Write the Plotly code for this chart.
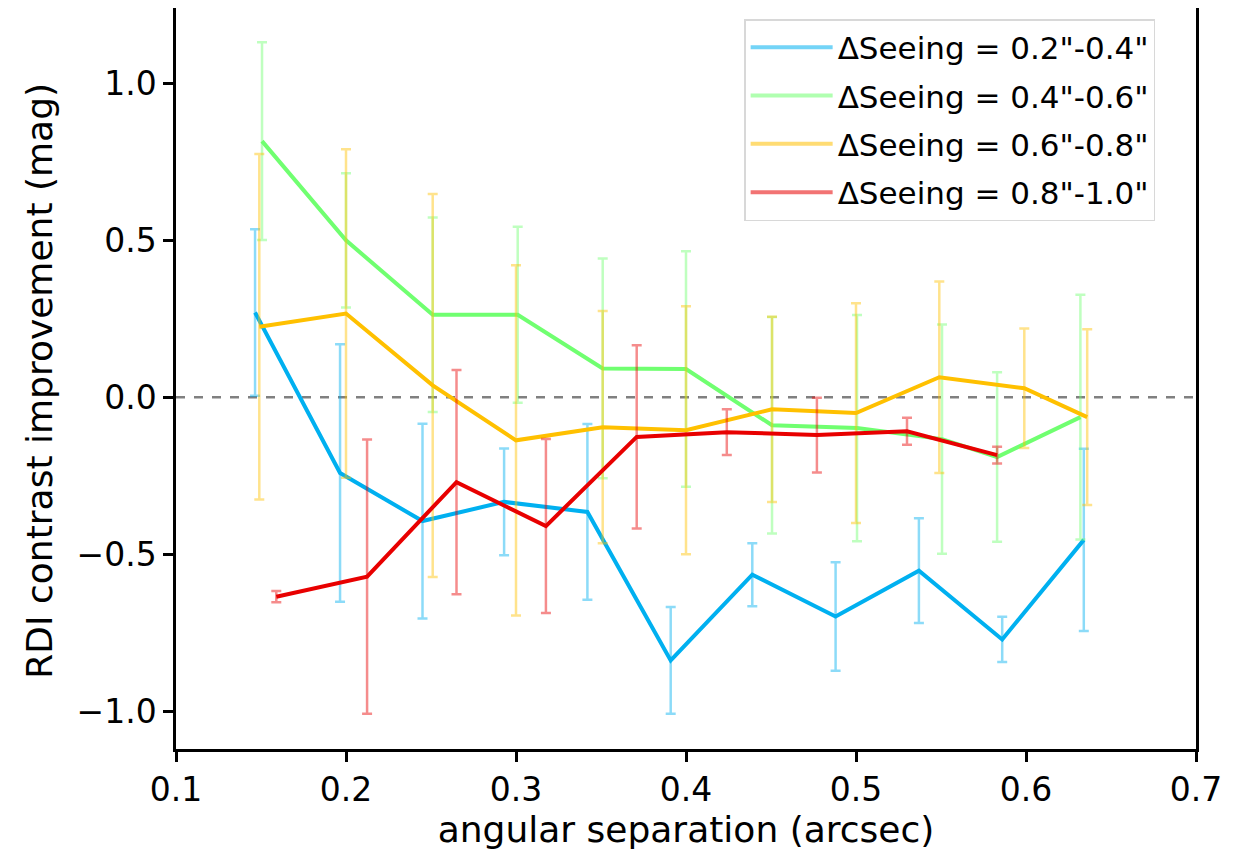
import plotly.graph_objects as go

# ΔSeeing = 0.2"-0.4"
x_blue = [0.1465, 0.1965, 0.245, 0.293, 0.342, 0.391, 0.439, 0.488, 0.537, 0.586, 0.634]
y_blue = [0.27, -0.241, -0.394, -0.333, -0.365, -0.838, -0.565, -0.698, -0.552, -0.771, -0.454]
e_blue = [0.265, 0.41, 0.31, 0.17, 0.28, 0.17, 0.10, 0.173, 0.167, 0.072, 0.29]

# ΔSeeing = 0.4"-0.6"
x_green = [0.1506, 0.200, 0.251, 0.301, 0.351, 0.400, 0.4506, 0.5006, 0.5506, 0.583, 0.632]
y_green = [0.816, 0.50, 0.263, 0.263, 0.092, 0.090, -0.089, -0.098, -0.133, -0.19, -0.063]
e_green = [0.315, 0.214, 0.31, 0.28, 0.35, 0.375, 0.345, 0.36, 0.365, 0.27, 0.39]

# ΔSeeing = 0.6"-0.8"
x_yellow = [0.149, 0.200, 0.251, 0.300, 0.351, 0.400, 0.4506, 0.500, 0.549, 0.599, 0.636]
y_yellow = [0.225, 0.267, 0.038, -0.137, -0.095, -0.105, -0.038, -0.05, 0.064, 0.029, -0.063]
e_yellow = [0.55, 0.523, 0.61, 0.558, 0.37, 0.395, 0.295, 0.35, 0.305, 0.19, 0.28]

# ΔSeeing = 0.8"-1.0"
x_red = [0.159, 0.2124, 0.265, 0.3176, 0.371, 0.424, 0.477, 0.530, 0.583]
y_red = [-0.635, -0.571, -0.27, -0.41, -0.126, -0.111, -0.12, -0.108, -0.184]
e_red = [0.018, 0.437, 0.357, 0.277, 0.292, 0.073, 0.119, 0.043, 0.027]

names = ['ΔSeeing = 0.2"-0.4"', 'ΔSeeing = 0.4"-0.6"',
         'ΔSeeing = 0.6"-0.8"', 'ΔSeeing = 0.8"-1.0"']
line_colors = ['#00b0f0', '#70ff70', '#ffc000', '#e80000']
err_colors = ['rgba(0,176,240,0.45)', 'rgba(112,255,112,0.45)',
              'rgba(255,192,0,0.45)', 'rgba(232,0,0,0.45)']
leg_colors = ['rgba(0,176,240,0.55)', 'rgba(112,255,112,0.55)',
              'rgba(255,192,0,0.55)', 'rgba(232,0,0,0.55)']

series = [(x_blue, y_blue, e_blue), (x_green, y_green, e_green),
          (x_yellow, y_yellow, e_yellow), (x_red, y_red, e_red)]

fig = go.Figure()
for (xs, ys, es), nm, lc, ec in zip(series, names, line_colors, err_colors):
    fig.add_trace(go.Scatter(
        x=xs, y=ys, mode='lines', name=nm, showlegend=False,
        line=dict(color=lc, width=4),
        error_y=dict(type='data', array=es, visible=True,
                     color=ec, thickness=2.5, width=5),
    ))
for i, (nm, ec) in enumerate(zip(names, leg_colors)):
    fig.add_trace(go.Scatter(
        x=[None], y=[None], mode='lines', name=nm, showlegend=True,
        legendgroup=f'g{i}',
        line=dict(color=ec, width=4),
    ))

fig.add_shape(type='line', xref='paper', x0=0, x1=1, yref='y', y0=0, y1=0,
              line=dict(color='gray', width=2.5, dash='dash'), layer='below')

fig.add_annotation(text='RDI contrast improvement (mag)', textangle=-90,
                   xref='paper', yref='paper', x=-0.1333, y=0.497,
                   xanchor='center', yanchor='middle', showarrow=False,
                   font=dict(size=36, color='black', family='DejaVu Sans'))

font_family = 'DejaVu Sans'
axis_common = dict(showgrid=False, zeroline=False, automargin=False,
                   showline=True, linecolor='black', linewidth=2.5, mirror=True,
                   ticks='outside', ticklen=10, tickwidth=2.5, tickcolor='black',
                   tickfont=dict(size=33), tickformat='.1f')
# page body has an 8px default margin, so the figure is drawn 8px smaller
fig.update_layout(
    template='none',
    width=1238, height=843,
    margin=dict(l=168, r=50, t=0, b=102, pad=0),
    paper_bgcolor='white', plot_bgcolor='white',
    font=dict(family=font_family, color='black', size=31),
    xaxis=dict(range=[0.1, 0.7], tickvals=[0.1, 0.2, 0.3, 0.4, 0.5, 0.6, 0.7],
               title=dict(text='angular separation (arcsec)', font=dict(size=36), standoff=2),
               **axis_common),
    yaxis=dict(range=[-1.12, 1.24], tickvals=[-1.0, -0.5, 0.0, 0.5, 1.0],
               **axis_common),
    legend=dict(x=0.557, y=0.985, xanchor='left', yanchor='top',
                bgcolor='rgba(255,255,255,0.8)', bordercolor='#d8d8d8', borderwidth=1.5,
                font=dict(size=31), tracegroupgap=5, itemwidth=82),
)

fig.write_html('out.html')
